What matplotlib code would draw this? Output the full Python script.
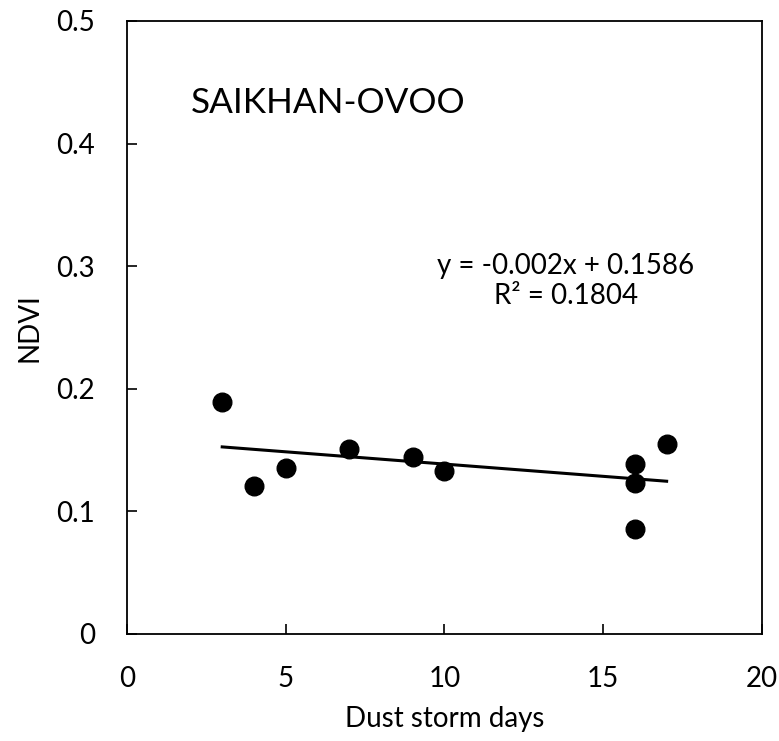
import matplotlib
matplotlib.use("Agg")
import matplotlib.pyplot as plt
import numpy as np

plt.rcParams["font.family"] = ["Lato", "DejaVu Sans"]

# dust storm days vs NDVI, Saikhan-Ovoo
dustDays = [3, 4, 5, 7, 9, 10, 16, 16, 16, 17]
ndvi = [0.189, 0.121, 0.135, 0.151, 0.144, 0.133, 0.139, 0.123, 0.086, 0.155]

# trend line as printed on the chart
slope = -0.002
intercept = 0.1586
r2 = 0.1804

xTicks = [0, 5, 10, 15, 20]
yTicks = [0, 0.1, 0.2, 0.3, 0.4, 0.5]
yTickLabels = ["0", "0.1", "0.2", "0.3", "0.4", "0.5"]

fig = plt.figure(figsize=(7.79, 7.41), dpi=100)
axes = fig.add_axes([0.163, 0.1444, 0.815, 0.8273])

axes.scatter(dustDays, ndvi, s=180, color="black", zorder=3)

xFit = np.array([min(dustDays), max(dustDays)])
axes.plot(xFit, slope * xFit + intercept, "-", color="black", linewidth=2.2, zorder=2)

axes.set_xlim(0, 20)
axes.set_ylim(0, 0.5)
axes.set_xticks(xTicks)
axes.set_yticks(yTicks)
axes.set_yticklabels(yTickLabels)
axes.tick_params(direction="in", length=7, width=1.2, labelsize=20)
axes.tick_params(axis="x", pad=23)
axes.tick_params(axis="y", pad=23)

for spine in axes.spines.values():
    spine.set_linewidth(1.3)

axes.set_xlabel("Dust storm days", fontsize=20, labelpad=10)
axes.set_ylabel("NDVI", fontsize=20, labelpad=10)

axes.text(2.0, 0.433, "SAIKHAN-OVOO", fontsize=25.3, va="center", ha="left")
axes.text(13.83, 0.288, "y = %.3fx + %.4f\nR² = %.4f" % (slope, intercept, r2),
          fontsize=20, ha="center", va="center", linespacing=1.2)

plt.savefig("out.png", dpi=100)
plt.close()
